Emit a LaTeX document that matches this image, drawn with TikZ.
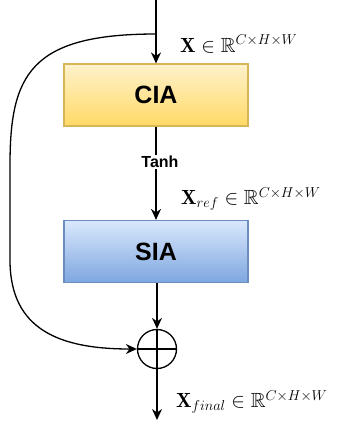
\RequirePackage{fix-cm}
\documentclass[tikz,border=0pt]{standalone}
\usepackage{amsmath,amssymb}
\usepackage{fontspec}
\setsansfont{Liberation Sans}
\usetikzlibrary{arrows.meta}
\definecolor{ciatop}{HTML}{FFF2CC}
\definecolor{ciabot}{HTML}{FFD966}
\definecolor{ciaedge}{HTML}{D6B656}
\definecolor{siatop}{HTML}{DAE8FC}
\definecolor{siabot}{HTML}{7EA6E0}
\definecolor{siaedge}{HTML}{6C8EBF}
\tikzset{
  blockbox/.style={minimum width=184pt, minimum height=62pt, inner sep=0pt, line width=1.2pt,
    font=\sffamily\bfseries\fontsize{25}{30}\selectfont},
  ciabox/.style={blockbox, draw=ciaedge, top color=ciatop, bottom color=ciabot},
  siabox/.style={blockbox, draw=siaedge, top color=siatop, bottom color=siabot},
  conn/.style={line width=1.3pt, -{Stealth[length=11pt,width=10pt]}},
  plain/.style={line width=1.3pt},
  mathlbl/.style={anchor=west, inner sep=0pt, font=\fontsize{20.5}{24}\selectfont},
}
\begin{document}
\begin{tikzpicture}[x=1pt,y=-1pt]
\useasboundingbox (0,0) rectangle (342,424);
\coordinate (top) at (156,0);
\coordinate (branch) at (156,34);
\node[ciabox] (cia) at (156,95) {CIA};
\node[siabox] (sia) at (156,251.5) {SIA};
\node[circle, draw, line width=1.3pt, minimum size=39pt, inner sep=0pt] (plus) at (157,349) {};
\draw[line width=1.3pt] (plus.north) -- (plus.south) (plus.west) -- (plus.east);
\node[fill=white, inner sep=1pt, font=\sffamily\bfseries\fontsize{16}{19}\selectfont] (tanh) at (160,162) {Tanh};
\coordinate (out) at (157,420);

\draw[plain] (top) -- (branch);
\draw[conn] (branch) -- (cia.north);
\draw[plain] (cia.south) -- (cia.south |- tanh.north);
\draw[conn] (cia.south |- tanh.south) -- (sia.north);
\draw[conn] (sia.south -| plus.north) -- (plus.north);
\draw[conn] (plus.south) -- (out);
\draw[conn] (branch) .. controls (30,34) and (10,75) .. (10,165)
  -- (10,260) .. controls (10,330) and (60,349) .. (plus.west);

\node[mathlbl] (lx) at (180,44) {$\mathbf{X}\in\mathbb{R}^{C\times H\times W}$};
\node[mathlbl] (lref) at (181,199) {$\mathbf{X}_{ref}\in\mathbb{R}^{C\times H\times W}$};
\node[mathlbl] (lfin) at (176,402) {$\mathbf{X}_{final}\in\mathbb{R}^{C\times H\times W}$};
\end{tikzpicture}
\end{document}
